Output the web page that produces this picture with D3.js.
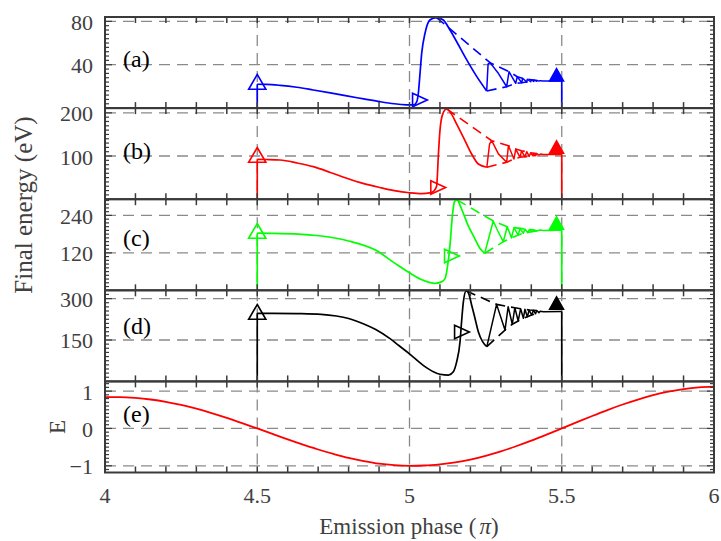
<!DOCTYPE html>
<html>
<head>
<meta charset="utf-8">
<script src="https://cdn.jsdelivr.net/npm/d3@7"></script>
<style>
  html, body { margin: 0; padding: 0; background: #fff; }
  svg { display: block; font-family: "Liberation Serif", "Times New Roman", serif; }
</style>
</head>
<body>
<svg id="chart" width="721" height="541"></svg>
<script>
// ---- Final energy vs emission phase, four field strengths (a)-(d) ----

// (a) blue
const mainPhaseA  = [4.5, 4.53, 4.575, 4.63, 4.684, 4.74, 4.794, 4.85, 4.903, 4.95, 4.99, 5.0, 5.015, 5.024, 5.029, 5.034, 5.040, 5.051, 5.067, 5.089, 5.111, 5.133, 5.155, 5.188, 5.221, 5.2535];
const mainEnergyA = [22, 21.9, 21.0, 19.2, 16.7, 14.0, 11.2, 8.5, 5.9, 4.0, 3.0, 2.9, 3.1, 6, 13.7, 30, 50.5, 69, 81.2, 83.5, 81.2, 72, 61.2, 44.4, 29, 15.8];
const ringPhaseA  = [5.2535, 5.258, 5.2644, 5.2917, 5.3192, 5.3268, 5.3488, 5.354, 5.3685, 5.3718, 5.3849, 5.3869, 5.398, 5.40, 5.408, 5.41, 5.417, 5.419, 5.425, 5.4286, 5.44, 5.5];
const ringEnergyA = [15.8, 40.5, 41.9, 32.1, 19.7, 33.6, 22.9, 29.0, 23.4, 27.5, 24.1, 26.6, 24.3, 26.2, 24.6, 25.8, 24.8, 25.5, 24.9, 25.3, 25.0, 25.0];
const peakPhaseA    = [5.089, 5.2644, 5.3268, 5.354, 5.3718, 5.3869, 5.40, 5.41, 5.419];
const peakEnergyA   = [83.5, 41.9, 33.6, 29.0, 27.5, 26.6, 26.2, 25.8, 25.5];
const troughPhaseA  = [5.2535, 5.3192, 5.3488, 5.3685, 5.3849, 5.398, 5.408];
const troughEnergyA = [15.8, 19.7, 22.9, 23.4, 24.1, 24.3, 24.6];

// (b) red
const mainPhaseB  = [4.5, 4.53, 4.575, 4.63, 4.684, 4.74, 4.794, 4.85, 4.903, 4.95, 5.0, 5.04, 5.067, 5.08, 5.089, 5.095, 5.100, 5.109, 5.122, 5.138, 5.155, 5.177, 5.204, 5.226, 5.254];
const mainEnergyB = [92.4, 92.0, 90.8, 84, 75.3, 62, 48.4, 36, 27, 20, 15, 13, 14.5, 19, 30, 104.7, 158.7, 197, 209, 197, 174, 143.4, 104.7, 81.5, 74];
const ringPhaseB  = [5.254, 5.263, 5.27, 5.292, 5.319, 5.325, 5.343, 5.349, 5.363, 5.368, 5.379, 5.385, 5.393, 5.398, 5.405, 5.408, 5.415, 5.418, 5.425, 5.43, 5.44, 5.5];
const ringEnergyB = [74, 128, 135.5, 105, 85.5, 124, 93, 116, 97, 112, 98.3, 110, 99, 107.6, 100.5, 106.5, 101.5, 105.5, 102.5, 104.5, 103.5, 103.5];
const peakPhaseB    = [5.122, 5.27, 5.325, 5.349, 5.368, 5.385, 5.398, 5.408, 5.418];
const peakEnergyB   = [209, 135.5, 124, 116, 112, 110, 107.6, 106.5, 105.5];
const troughPhaseB  = [5.254, 5.319, 5.343, 5.363, 5.379, 5.393, 5.405, 5.415];
const troughEnergyB = [74, 85.5, 93, 97, 98.3, 99, 100.5, 101.5];

// (c) green
const mainPhaseC  = [4.5, 4.55, 4.635, 4.71, 4.80, 4.89, 4.95, 5.0, 5.045, 5.084, 5.105, 5.117, 5.127, 5.133, 5.141, 5.148, 5.156, 5.170, 5.192, 5.214, 5.231, 5.247];
const mainEnergyC = [183, 182.5, 180, 174, 158, 128, 88, 56, 32, 22, 27, 38.5, 91.7, 145, 241, 285, 290, 263, 209, 166.7, 134.6, 118.6];
const ringPhaseC  = [5.247, 5.275, 5.29, 5.308, 5.321, 5.335, 5.343, 5.357, 5.363, 5.374, 5.379, 5.388, 5.394, 5.401, 5.407, 5.418, 5.429, 5.44, 5.5];
const ringEnergyC = [118.6, 222, 190, 155.8, 203.9, 168, 201, 177, 198.6, 182.7, 196.5, 185, 195, 188, 194, 190, 193, 192, 192.5];
const peakPhaseC    = [5.156, 5.275, 5.321, 5.343, 5.363, 5.379, 5.394, 5.407];
const peakEnergyC   = [290, 222, 203.9, 201, 198.6, 196.5, 195, 194];
const troughPhaseC  = [5.247, 5.308, 5.335, 5.357, 5.374, 5.388, 5.401, 5.418];
const troughEnergyC = [118.6, 155.8, 168, 177, 182.7, 185, 188, 190];

// (d) black
const mainPhaseD  = [4.5, 4.55, 4.63, 4.71, 4.76, 4.80, 4.85, 4.889, 4.936, 4.965, 5.0, 5.045, 5.08, 5.100, 5.128, 5.144, 5.155, 5.166, 5.171, 5.177, 5.186, 5.193, 5.204, 5.215, 5.226, 5.240, 5.254];
const mainEnergyD = [246.7, 246.5, 245.5, 243, 237, 228, 208, 188, 155, 130, 100, 58, 34, 26, 23, 35, 71.4, 144, 216, 289, 328, 322, 277, 228.6, 180, 144, 125.7];
const ringPhaseD  = [5.254, 5.286, 5.3136, 5.324, 5.3376, 5.346, 5.357, 5.365, 5.374, 5.379, 5.387, 5.393, 5.401, 5.407, 5.414, 5.418, 5.425, 5.429, 5.44, 5.5];
const ringEnergyD = [125.7, 279, 186, 270.6, 207, 267, 219, 263.4, 228.6, 261, 234.4, 258.6, 240.5, 257.5, 245, 256.5, 249, 254, 252, 253];
const peakPhaseD    = [5.186, 5.286, 5.324, 5.346, 5.365, 5.379, 5.393, 5.407, 5.418];
const peakEnergyD   = [328, 279, 270.6, 267, 263.4, 261, 258.6, 257.5, 256.5];
const troughPhaseD  = [5.254, 5.3136, 5.3376, 5.357, 5.374, 5.387, 5.401, 5.414];
const troughEnergyD = [125.7, 186, 207, 219, 228.6, 234.4, 240.5, 245];

// markers: birth (open up), turning point (open right), final (filled up)
const startMarkerPhase  = [4.5, 4.5, 4.5, 4.5];
const startMarkerEnergy = [24.1, 102.4, 190, 251.4];
const turnMarkerPhase   = [5.034, 5.094, 5.139, 5.172];
const turnMarkerEnergy  = [7.5, 27, 110, 179];
const endMarkerPhase    = [5.483, 5.483, 5.483, 5.483];
const endMarkerEnergy   = [30.5, 120.2, 214.7, 283];

// y tick labels per panel
const ticksA = [40, 80];
const ticksB = [100, 200];
const ticksC = [120, 240];
const ticksD = [150, 300];
const ticksE = [-1, 0, 1];
const phaseTicks = [4, 4.5, 5, 5.5, 6];

// (e) laser field
const phaseE = [4.00, 4.05, 4.10, 4.15, 4.20, 4.25, 4.30, 4.35, 4.40, 4.45, 4.50, 4.55, 4.60, 4.65, 4.70, 4.75, 4.80, 4.85, 4.90, 4.95, 5.00,
                5.05, 5.10, 5.15, 5.20, 5.25, 5.30, 5.35, 5.40, 5.45, 5.50, 5.55, 5.60, 5.65, 5.70, 5.75, 5.80, 5.85, 5.90, 5.95, 6.00];
const fieldE = [0.84, 0.84, 0.818, 0.775, 0.712, 0.629, 0.529, 0.413, 0.284, 0.145, 0, -0.147, -0.292, -0.431, -0.564, -0.682, -0.789, -0.873, -0.942, -0.983, -1.0,
                -0.993, -0.961, -0.909, -0.833, -0.732, -0.614, -0.477, -0.328, -0.167, 0, 0.168, 0.334, 0.493, 0.641, 0.774, 0.89, 0.985, 1.056, 1.101, 1.12];

// ---- layout ----
const svg = d3.select("#chart");
const x = d3.scaleLinear().domain([4, 6]).range([105, 714]);
const panelTop = [17, 108.1, 199.2, 290.3, 381.4];
const panelH = 91.1;
const axisColor = "#3a3a3a";
const gridColor = "#8a8a8a";
const textColor = "#404040";

const zip = (a, b) => a.map((v, i) => [v, b[i]]);

const panels = [
  { key: "a", label: "(a)", labelY: 67,    color: "#0000ff", domain: [0, 84],  ticks: ticksA, minorStep: 4,
    main: zip(mainPhaseA, mainEnergyA), ring: zip(ringPhaseA, ringEnergyA),
    peaks: zip(peakPhaseA, peakEnergyA), troughs: zip(troughPhaseA, troughEnergyA) },
  { key: "b", label: "(b)", labelY: 158.5, color: "#ff0000", domain: [0, 211], ticks: ticksB, minorStep: 10,
    main: zip(mainPhaseB, mainEnergyB), ring: zip(ringPhaseB, ringEnergyB),
    peaks: zip(peakPhaseB, peakEnergyB), troughs: zip(troughPhaseB, troughEnergyB) },
  { key: "c", label: "(c)", labelY: 245.5, color: "#00ff00", domain: [0, 292], ticks: ticksC, minorStep: 12,
    main: zip(mainPhaseC, mainEnergyC), ring: zip(ringPhaseC, ringEnergyC),
    peaks: zip(peakPhaseC, peakEnergyC), troughs: zip(troughPhaseC, troughEnergyC) },
  { key: "d", label: "(d)", labelY: 333.5, color: "#000000", domain: [0, 330], ticks: ticksD, minorStep: 15,
    main: zip(mainPhaseD, mainEnergyD), ring: zip(ringPhaseD, ringEnergyD),
    peaks: zip(peakPhaseD, peakEnergyD), troughs: zip(troughPhaseD, troughEnergyD) }
];

const upTri = "M0,-7.5L8.6,7.3L-8.6,7.3Z";
const rightTri = "M-7.3,-6.8L7.5,0L-7.3,6.8Z";
const upTriSmall = "M0,-6.5L7,6L-7,6Z";

// dashed grid of one panel
function drawFrame(g, y, top, ticks) {
  const bottom = top + panelH;
  const grid = g.append("g").attr("stroke", gridColor).attr("stroke-width", 1.3)
    .attr("stroke-dasharray", "11,7").attr("fill", "none");
  ticks.forEach(t => {
    if (y(t) > top + 1 && y(t) < bottom - 1)
      grid.append("line").attr("x1", x(4)).attr("x2", x(6)).attr("y1", y(t)).attr("y2", y(t));
  });
  [4.5, 5, 5.5].forEach(p => {
    grid.append("line").attr("x1", x(p)).attr("x2", x(p)).attr("y1", top).attr("y2", bottom);
  });
}

// box, ticks and value labels of one panel
function drawAxes(g, y, top, ticks, minorStep, dom) {
  const bottom = top + panelH;
  const ax = g.append("g").attr("stroke", axisColor).attr("fill", "none");
  x.ticks(20).forEach(p => {
    if (p <= 4.001 || p >= 5.999) return;
    ax.append("line").attr("x1", x(p)).attr("x2", x(p)).attr("y1", top).attr("y2", top + 6).attr("stroke-width", 1.5);
    ax.append("line").attr("x1", x(p)).attr("x2", x(p)).attr("y1", bottom).attr("y2", bottom - 6).attr("stroke-width", 1.5);
  });
  const first = Math.ceil(dom[0] / minorStep) * minorStep;
  for (let v = first; v <= dom[1] + 1e-9; v += minorStep) {
    const yy = y(v);
    if (yy < top + 1 || yy > bottom - 1) continue;
    const isMajor = ticks.some(t => Math.abs(t - v) < 1e-6);
    const len = isMajor ? 7 : 4;
    ax.append("line").attr("x1", x(4)).attr("x2", x(4) + len).attr("y1", yy).attr("y2", yy).attr("stroke-width", 1.2);
    ax.append("line").attr("x1", x(6)).attr("x2", x(6) - len).attr("y1", yy).attr("y2", yy).attr("stroke-width", 1.2);
  }
  ax.append("rect").attr("x", x(4)).attr("y", top).attr("width", x(6) - x(4)).attr("height", panelH)
    .attr("stroke-width", 2);
  ticks.forEach(t => {
    g.append("text").attr("x", 93).attr("y", y(t) + 1).attr("text-anchor", "end")
      .attr("dominant-baseline", "central").attr("font-size", 22).attr("fill", textColor)
      .text(t < 0 ? "\u2212" + Math.abs(t) : t);
  });
}

panels.forEach((p, i) => {
  const top = panelTop[i];
  const bottom = top + panelH;
  const y = d3.scaleLinear().domain(p.domain).range([bottom, top]);
  const g = svg.append("g");
  g.append("clipPath").attr("id", "clip-" + p.key).append("rect")
    .attr("x", x(4)).attr("y", top).attr("width", x(6) - x(4)).attr("height", panelH);

  drawFrame(g, y, top, p.ticks);

  const plot = g.append("g").attr("clip-path", "url(#clip-" + p.key + ")");
  const smooth = d3.line().x(d => x(d[0])).y(d => y(d[1])).curve(d3.curveMonotoneX);
  const straight = d3.line().x(d => x(d[0])).y(d => y(d[1]));

  // emission onset and cut-off drops
  const first = p.main[0], last = p.ring[p.ring.length - 1];
  plot.append("path").attr("d", straight([[first[0], p.domain[0]], first]))
    .attr("stroke", p.color).attr("stroke-width", 1.7).attr("fill", "none");
  plot.append("path").attr("d", straight([last, [last[0], p.domain[0]]]))
    .attr("stroke", p.color).attr("stroke-width", 1.7).attr("fill", "none");

  // envelopes of the rescattering maxima / minima
  [p.peaks, p.troughs].forEach(env => {
    plot.append("path").attr("d", straight(env)).attr("stroke", p.color)
      .attr("stroke-width", 1.6).attr("stroke-dasharray", "10,6").attr("fill", "none");
  });

  plot.append("path").attr("d", smooth(p.main)).attr("stroke", p.color)
    .attr("stroke-width", 1.7).attr("fill", "none").attr("stroke-linejoin", "round");
  plot.append("path").attr("d", straight(p.ring)).attr("stroke", p.color)
    .attr("stroke-width", 1.5).attr("fill", "none").attr("stroke-linejoin", "round");

  // markers
  const mk = g.append("g");
  mk.append("path").attr("d", upTri)
    .attr("transform", `translate(${x(startMarkerPhase[i])},${y(startMarkerEnergy[i])})`)
    .attr("fill", "none").attr("stroke", p.color).attr("stroke-width", 1.6);
  mk.append("path").attr("d", rightTri)
    .attr("transform", `translate(${x(turnMarkerPhase[i])},${y(turnMarkerEnergy[i])})`)
    .attr("fill", "none").attr("stroke", p.color).attr("stroke-width", 1.6);
  mk.append("path").attr("d", upTriSmall)
    .attr("transform", `translate(${x(endMarkerPhase[i])},${y(endMarkerEnergy[i])})`)
    .attr("fill", p.color).attr("stroke", p.color).attr("stroke-width", 1.5);

  drawAxes(g, y, top, p.ticks, p.minorStep, p.domain);

  g.append("text").attr("x", 123).attr("y", p.labelY).attr("font-size", 24)
    .attr("fill", "#000").text(p.label);
});

// ---- (e) field panel ----
{
  const top = panelTop[4];
  const dom = [-1.18, 1.26];
  const y = d3.scaleLinear().domain(dom).range([top + panelH, top]);
  const g = svg.append("g");
  g.append("clipPath").attr("id", "clip-e").append("rect")
    .attr("x", x(4)).attr("y", top).attr("width", x(6) - x(4)).attr("height", panelH);
  drawFrame(g, y, top, ticksE);
  const line = d3.line().x((d, k) => x(phaseE[k])).y(d => y(d)).curve(d3.curveMonotoneX);
  g.append("g").attr("clip-path", "url(#clip-e)").append("path")
    .attr("d", line(fieldE)).attr("stroke", "#ff0000").attr("stroke-width", 1.8).attr("fill", "none");
  drawAxes(g, y, top, ticksE, 0.1, dom);
  g.append("text").attr("x", 123).attr("y", 422).attr("font-size", 24).attr("fill", "#000").text("(e)");

  phaseTicks.forEach(p => {
    svg.append("text").attr("x", x(p)).attr("y", 503).attr("text-anchor", "middle")
      .attr("font-size", 22).attr("fill", textColor).text(p);
  });
}

// axis titles
const xTitle = svg.append("text").attr("x", 409).attr("y", 534).attr("text-anchor", "middle")
  .attr("font-size", 23).attr("fill", textColor);
xTitle.append("tspan").text("Emission phase (");
xTitle.append("tspan").attr("font-style", "italic").attr("dx", 3).text("\u03c0");
xTitle.append("tspan").text(")");

svg.append("text").attr("transform", "translate(32,205) rotate(-90)").attr("text-anchor", "middle")
  .attr("font-size", 25).attr("fill", textColor).text("Final energy (eV)");
svg.append("text").attr("transform", "translate(65,427) rotate(-90)").attr("text-anchor", "middle")
  .attr("font-size", 23).attr("fill", textColor).text("E");
</script>
</body>
</html>
